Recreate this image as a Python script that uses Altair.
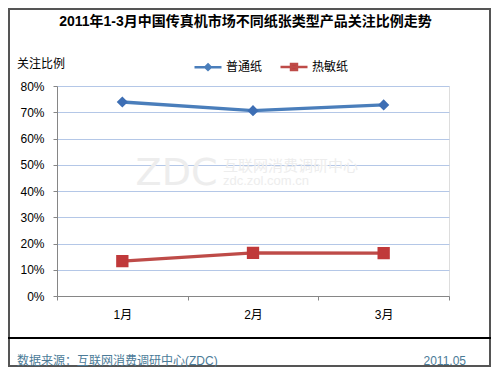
import altair as alt
import pandas as pd

months = ["1月", "2月", "3月"]
series_names = ["普通纸", "热敏纸"]
plain_paper = [0.739, 0.706, 0.728]
thermal_paper = [0.133, 0.164, 0.163]
y_ticks = [0, 0.1, 0.2, 0.3, 0.4, 0.5, 0.6, 0.7, 0.8]

title_text = "2011年1-3月中国传真机市场不同纸张类型产品关注比例走势"
y_title_text = "关注比例"
source_text = "数据来源：互联网消费调研中心(ZDC)"
date_text = "2011.05"

rows = []
for m, v in zip(months, plain_paper):
    rows.append({"month": m, "series": series_names[0], "value": v})
for m, v in zip(months, thermal_paper):
    rows.append({"month": m, "series": series_names[1], "value": v})
df = pd.DataFrame(rows)

FONT = "Liberation Sans, Noto Sans CJK SC"
BLUE = "#4a7ebb"
RED = "#be4b48"
BLUE_M = "#3d6eb4"
RED_M = "#c0393a"

# marker shapes: a (stroke-only) line segment plus a filled marker
blue_path = "M-1,0L1,0M0,-0.2L0.2,0L0,0.2L-0.2,0Z"
red_path = "M-1,0L1,0M-0.22,-0.22L0.22,-0.22L0.22,0.22L-0.22,0.22Z"

legend = alt.Legend(
    title=None, orient="none", legendX=136, legendY=-34, direction="horizontal",
    labelFont=FONT, labelFontSize=12, labelColor="#000000", symbolSize=729,
    symbolStrokeWidth=2.5, symbolOpacity=1,
    labelOffset=3, columnPadding=12, padding=0,
)

x_enc = alt.X(
    "month:N", sort=months,
    scale=alt.Scale(type="band", paddingInner=0, paddingOuter=0),
    axis=alt.Axis(title=None, labelAngle=0, tickBand="extent", ticks=True, tickSize=4,
                  tickColor="#868686", domainColor="#868686", labelFont=FONT,
                  labelFontSize=12, labelColor="#000000", labelPadding=9, grid=False),
)
y_enc = alt.Y(
    "value:Q", scale=alt.Scale(domain=[0, 0.8]),
    axis=alt.Axis(title=None, format=".0%", values=y_ticks, tickSize=4, tickColor="#868686",
                  domainColor="#868686", gridColor="#b4c7e7", labelFont=FONT,
                  labelFontSize=12, labelColor="#000000", labelPadding=9),
)

base = alt.Chart(df)
lines = base.mark_line(strokeWidth=3.3).encode(
    x=x_enc, y=y_enc,
    stroke=alt.Stroke("series:N", scale=alt.Scale(domain=series_names, range=[BLUE, RED]), legend=legend),
)
points = base.mark_point(filled=True, opacity=1, size=3136, strokeWidth=0).encode(
    x=x_enc, y=y_enc,
    fill=alt.Fill("series:N", scale=alt.Scale(domain=series_names, range=[BLUE_M, RED_M]), legend=legend),
    stroke=alt.Stroke("series:N", legend=legend),
    shape=alt.Shape("series:N", scale=alt.Scale(domain=series_names, range=[blue_path, red_path]), legend=legend),
)


def txt(value, x, y, **kw):
    return alt.Chart(alt.Data(values=[{"t": value}])).mark_text(**kw).encode(
        x=alt.value(x), y=alt.value(y), text="t:N")


WM = "#ededed"
watermark = [
    txt("ZDC", 119.5, 88, font="DejaVu Sans", fontSize=38, color=WM, align="center", baseline="middle"),
    txt("互联网消费调研中心", 166, 80, font=FONT, fontSize=15, color=WM, align="left", baseline="middle"),
    txt("zdc.zol.com.cn", 166, 95, font=FONT, fontSize=13, color=WM, align="left", baseline="middle"),
]

texts = [
    txt(title_text, 188.5, -64, font=FONT, fontSize=14, fontWeight="bold", color="#000000",
        align="center", baseline="middle"),
    txt(y_title_text, -40, -22, font=FONT, fontSize=12, color="#000000", align="left", baseline="middle"),
    txt(source_text, -40, 275, font=FONT, fontSize=12, color="#4b7b98", align="left", baseline="middle"),
    txt(date_text, 409, 275, font=FONT, fontSize=12, color="#4b7b98", align="right", baseline="middle"),
]

sep = alt.Chart(alt.Data(values=[{"a": 1}])).mark_rule(color="#000000", strokeWidth=2).encode(
    x=alt.value(-49), x2=alt.value(434), y=alt.value(252))
border = alt.Chart(alt.Data(values=[{"a": 1}])).mark_rect(
    fill="transparent", stroke="#555555", strokeWidth=2).encode(
    x=alt.value(-48), x2=alt.value(433), y=alt.value(-77), y2=alt.value(280))

chart = alt.layer(border, *watermark, lines, points, sep, *texts).properties(
    width=392, height=210,
    autosize=alt.AutoSizeParams(type="none"),
    padding={"left": 49, "top": 78, "right": 43, "bottom": 71},
).configure_view(stroke=None).configure(background="white")

chart.save("out.html", embed_options={"renderer": "svg", "actions": False})
